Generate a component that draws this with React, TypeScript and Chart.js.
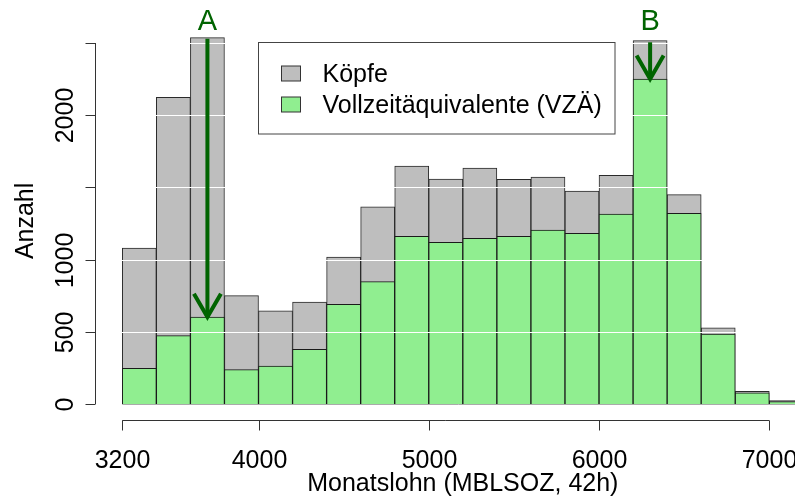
import { useEffect, useRef } from "react";
import { Chart, registerables } from "chart.js";

Chart.register(...registerables);

const FONT = '"Liberation Sans", Arial, Helvetica, sans-serif';

// Histogram bins (lower edges, width 200)
const binStarts = [
  3200, 3400, 3600, 3800, 4000, 4200, 4400, 4600, 4800, 5000,
  5200, 5400, 5600, 5800, 6000, 6200, 6400, 6600, 6800, 7000,
];
const BIN_WIDTH = 200;

// Counts per bin
const koepfe = [
  1080, 2124, 2537, 750, 646, 706, 1018, 1366, 1648, 1558,
  1634, 1556, 1572, 1475, 1584, 2516, 1450, 528, 87, 23,
];
const vzae = [
  247, 473, 602, 238, 263, 379, 690, 847, 1161, 1120,
  1147, 1161, 1205, 1182, 1316, 2251, 1321, 485, 78, 16,
];

// Axis ticks
const xTicks = [3200, 4000, 5000, 6000, 7000];
const yTicks = [0, 500, 1000, 1500, 2000, 2500];
const yTickLabels = ["0", "500", "1000", "", "2000", ""];
const gridValues = [500, 1000, 1500, 2000, 2500];

// Marked bins (arrows)
const markerLabels = ["A", "B"];
const markerX = [3700, 6300];
const markerFrom = [2530, 2505];
const markerTo = [602, 2251];
const markerLabelY = [2642, 2648];

const legendLabels = ["Köpfe", "Vollzeitäquivalente (VZÄ)"];

const GREY = "#bebebe";
const GREEN = "#90ee90";
const DARKGREEN = "#006400";
const AXIS = "#333333";
const TEXT_FONT = `25px ${FONT}`;

const decorations = {
  id: "histDecorations",
  afterDatasetsDraw(chart: any) {
    const { ctx, chartArea, scales } = chart;
    const xs = scales.x;
    const ys = scales.y;
    ctx.save();
    // white reference lines over the bars
    ctx.strokeStyle = "#ffffff";
    ctx.lineWidth = 1;
    for (const v of gridValues) {
      const y = Math.round(ys.getPixelForValue(v)) + 0.5;
      ctx.beginPath();
      ctx.moveTo(chartArea.left, y);
      ctx.lineTo(chartArea.right, y);
      ctx.stroke();
    }
    // baseline
    ctx.strokeStyle = "#aaaaaa";
    const y0 = Math.round(ys.getPixelForValue(0)) + 0.5;
    ctx.beginPath();
    ctx.moveTo(xs.getPixelForValue(binStarts[0]), y0);
    ctx.lineTo(chartArea.right, y0);
    ctx.stroke();

    // arrows
    ctx.strokeStyle = DARKGREEN;
    ctx.lineWidth = 4;
    ctx.lineCap = "butt";
    ctx.lineJoin = "miter";
    for (let i = 0; i < markerX.length; i++) {
      const x = xs.getPixelForValue(markerX[i]);
      const yA = ys.getPixelForValue(markerFrom[i]);
      const yB = ys.getPixelForValue(markerTo[i]);
      ctx.beginPath();
      ctx.moveTo(x, yA);
      ctx.lineTo(x, yB);
      ctx.stroke();
      const len = 27;
      const ang = Math.PI / 6;
      ctx.beginPath();
      ctx.moveTo(x - len * Math.sin(ang), yB - len * Math.cos(ang));
      ctx.lineTo(x, yB);
      ctx.lineTo(x + len * Math.sin(ang), yB - len * Math.cos(ang));
      ctx.stroke();
      ctx.fillStyle = DARKGREEN;
      ctx.font = `29px ${FONT}`;
      ctx.textAlign = "center";
      ctx.textBaseline = "middle";
      ctx.fillText(markerLabels[i], x, ys.getPixelForValue(markerLabelY[i]));
    }
    ctx.restore();
  },
  afterDraw(chart: any) {
    const { ctx, chartArea, scales } = chart;
    const xs = scales.x;
    const ys = scales.y;
    ctx.save();
    ctx.strokeStyle = AXIS;
    ctx.fillStyle = "#000000";
    ctx.lineWidth = 1;

    // y axis
    const ax = Math.round(chartArea.left) + 0.5;
    ctx.beginPath();
    ctx.moveTo(ax, ys.getPixelForValue(yTicks[0]));
    ctx.lineTo(ax, ys.getPixelForValue(yTicks[yTicks.length - 1]));
    ctx.stroke();
    ctx.font = TEXT_FONT;
    for (let i = 0; i < yTicks.length; i++) {
      const y = Math.round(ys.getPixelForValue(yTicks[i])) + 0.5;
      ctx.beginPath();
      ctx.moveTo(ax - 10, y);
      ctx.lineTo(ax, y);
      ctx.stroke();
      if (yTickLabels[i]) {
        ctx.save();
        ctx.translate(ax - 23, y);
        ctx.rotate(-Math.PI / 2);
        ctx.textAlign = "center";
        ctx.textBaseline = "alphabetic";
        ctx.fillText(yTickLabels[i], 0, 0);
        ctx.restore();
      }
    }

    // x axis
    const ay = Math.round(chartArea.bottom) + 0.5;
    ctx.beginPath();
    ctx.moveTo(xs.getPixelForValue(xTicks[0]), ay);
    ctx.lineTo(xs.getPixelForValue(xTicks[xTicks.length - 1]), ay);
    ctx.stroke();
    ctx.textAlign = "center";
    ctx.textBaseline = "alphabetic";
    for (const t of xTicks) {
      const x = Math.round(xs.getPixelForValue(t)) + 0.5;
      ctx.beginPath();
      ctx.moveTo(x, ay);
      ctx.lineTo(x, ay + 10);
      ctx.stroke();
      ctx.fillText(String(t), x, ay + 47);
    }

    // axis titles
    ctx.font = TEXT_FONT;
    ctx.fillText("Monatslohn (MBLSOZ, 42h)", xs.getPixelForValue(5200), ay + 70);
    ctx.save();
    ctx.translate(33, ys.getPixelForValue(1268));
    ctx.rotate(-Math.PI / 2);
    ctx.textAlign = "center";
    ctx.textBaseline = "alphabetic";
    ctx.fillText("Anzahl", 0, 0);
    ctx.restore();

    // legend
    ctx.strokeStyle = "#444444";
    ctx.fillStyle = "#ffffff";
    ctx.fillRect(258.5, 42.5, 356.5, 91.5);
    ctx.strokeRect(258.5, 42.5, 356.5, 91.5);
    const swatch = [GREY, GREEN];
    const rowBase = [81.5, 112.5];
    for (let i = 0; i < legendLabels.length; i++) {
      ctx.fillStyle = swatch[i];
      ctx.fillRect(281.5, rowBase[i] - 15.5, 19, 15);
      ctx.strokeStyle = "#333333";
      ctx.strokeRect(281.5, rowBase[i] - 15.5, 19, 15);
      ctx.fillStyle = "#000000";
      ctx.textAlign = "left";
      ctx.font = TEXT_FONT;
      ctx.fillText(legendLabels[i], 322.5, rowBase[i]);
    }
    ctx.restore();
  },
};

export default function App() {
  const ref = useRef<HTMLCanvasElement>(null);

  useEffect(() => {
    const centers = binStarts.map((s) => s + BIN_WIDTH / 2);
    const chart = new Chart(ref.current!, {
      type: "bar",
      data: {
        datasets: [
          {
            label: legendLabels[1],
            data: centers.map((x, i) => ({ x, y: vzae[i] })),
            backgroundColor: GREEN,
            borderColor: "#1a1a1a",
            borderWidth: 1,
            grouped: false,
            barPercentage: 1,
            categoryPercentage: 1,
          },
          {
            label: legendLabels[0],
            data: centers.map((x, i) => ({ x, y: koepfe[i] })),
            backgroundColor: GREY,
            borderColor: "#2a2a2a",
            borderWidth: 1,
            grouped: false,
            barPercentage: 1,
            categoryPercentage: 1,
          },
        ],
      },
      options: {
        responsive: false,
        animation: false,
        devicePixelRatio: 1,
        layout: { padding: { left: 95, right: 0, top: 0, bottom: 82 } },
        scales: {
          x: { type: "linear", min: 3039.7, max: 7151, offset: false, display: false },
          y: { type: "linear", min: -110.8, max: 2797.8, display: false },
        },
        plugins: {
          legend: { display: false },
          tooltip: { enabled: false },
        },
        events: [],
      },
      plugins: [decorations],
    } as any);
    return () => chart.destroy();
  }, []);

  return (
    <div style={{ position: "absolute", left: 0, top: 0, width: 795, height: 502, background: "#ffffff" }}>
      <canvas ref={ref} width={795} height={502} style={{ display: "block", width: 795, height: 502 }} />
    </div>
  );
}
